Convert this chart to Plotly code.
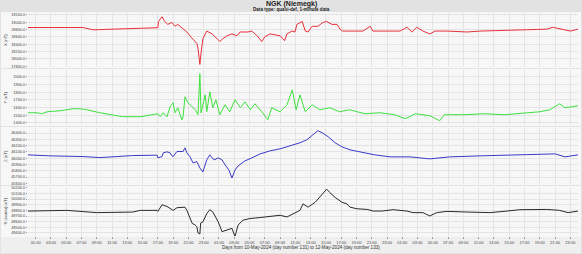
import numpy as np
import pandas as pd
import plotly.graph_objects as go
from plotly.subplots import make_subplots

# ---- data (hours since 2024-05-10 00:00 UT, values in nT) ----
x_hours = [0, 3.0, 7.2, 8.5, 10.7, 13.7, 16.9, 17.0, 17.08, 17.3, 17.55, 17.9, 18.3, 18.85, 19.25, 19.6, 19.9,
           20.3, 20.8, 21.2, 21.9, 22.1, 22.25, 22.4, 22.5, 22.65, 22.9, 23.4, 24.1, 24.75, 25.1, 25.5, 26.05,
           26.7, 27.35, 27.75, 28.8, 29.3, 30.0, 30.6, 31.0, 31.7, 32.3, 33.0, 33.6, 33.9, 34.55, 34.95, 35.2,
           35.6, 35.9, 36.3, 36.65, 37.2, 37.95, 38.6, 39.1, 39.8, 40.45, 40.85, 41.2, 42.15, 43.85, 44.8,
           45.15, 46.1, 47.8, 48.7, 49.6, 50.3, 50.9, 51.7, 52.6, 53.3, 54.85, 57.5, 59.2, 63.5, 67.9, 68.7,
           69.9, 71.0, 72.0]
x_vals = [18855, 18858, 18855, 18792, 18810, 18836, 18847, 18850, 19018, 19070, 19148, 19018, 18940, 18992,
          18888, 18940, 18888, 18810, 18733, 18629, 18473, 18421, 18291, 18083, 17850, 18161, 18551, 18758,
          18681, 18551, 18473, 18551, 18629, 18681, 18629, 18733, 18733, 18758, 18629, 18473, 18603, 18681,
          18655, 18629, 18499, 18681, 18758, 18733, 18940, 18992, 19018, 18758, 18733, 18888, 18888, 18992,
          19018, 18940, 18940, 18810, 18758, 18758, 18758, 18888, 18758, 18758, 18758, 18758, 18862, 18733,
          18862, 18758, 18681, 18758, 18758, 18733, 18758, 18784, 18810, 18862, 18810, 18758, 18810]

y_hours = [0, 1.2, 1.8, 2.5, 4.2, 5.9, 6.8, 7.7, 9.4, 11.1, 12.4, 14.7, 16.4, 17.0, 17.3, 17.7, 18.2, 18.6,
           19.0, 19.25, 19.6, 20.15, 20.3, 20.55, 20.95, 21.5, 21.9, 22.25, 22.5, 22.65, 23.2, 23.4, 23.8,
           24.2, 24.6, 25.1, 25.8, 26.4, 27.1, 27.8, 28.4, 29.1, 29.7, 30.6, 31.4, 31.9, 33.0, 33.9, 34.6,
           35.1, 35.6, 36.3, 37.2, 38.2, 39.5, 40.8, 42.1, 44.1, 46.1, 48.0, 49.4, 50.7, 52.6, 53.9, 54.5,
           57.1, 59.7, 62.4, 65.0, 67.0, 68.3, 69.6, 70.3, 72.0]
y_vals = [1532, 1532, 1519, 1545, 1558, 1584, 1584, 1571, 1532, 1506, 1480, 1480, 1506, 1519, 1480, 1532,
          1480, 1610, 1662, 1532, 1597, 1441, 1480, 1740, 1662, 1610, 1571, 1506, 2040, 1532, 1766, 1545,
          1805, 1597, 1701, 1506, 1636, 1545, 1701, 1597, 1675, 1571, 1649, 1545, 1441, 1597, 1545, 1636,
          1831, 1571, 1766, 1545, 1636, 1571, 1597, 1545, 1571, 1519, 1532, 1506, 1454, 1519, 1493, 1428,
          1506, 1506, 1519, 1506, 1532, 1545, 1571, 1649, 1597, 1623]

z_hours = [0, 2.9, 7.2, 9.4, 11.65, 13.7, 16.9, 17.0, 17.55, 17.7, 18.2, 18.6, 18.85, 19.0, 19.5, 19.9, 20.3,
           20.55, 20.8, 21.2, 21.6, 22.1, 22.5, 22.9, 23.4, 23.8, 24.35, 24.9, 25.4, 25.9, 26.3, 26.7, 27.1,
           27.5, 28.4, 29.3, 30.4, 31.7, 33.0, 34.3, 35.6, 36.5, 37.3, 37.95, 38.5, 39.3, 40.2, 41.1, 42.15,
           43.5, 45.4, 47.4, 50.0, 52.6, 55.2, 59.2, 63.1, 67.0, 69.0, 70.3, 72.0]
z_vals = [46053, 46037, 46026, 46010, 46026, 46042, 46048, 46005, 46026, 46085, 46101, 46085, 46037, 46026,
          46106, 46101, 46106, 46165, 46085, 46026, 45925, 45946, 45845, 45781, 45973, 46053, 45973, 46005,
          45973, 45877, 45813, 45685, 45813, 45877, 45957, 46005, 46069, 46117, 46149, 46197, 46245, 46293,
          46373, 46437, 46405, 46341, 46245, 46181, 46133, 46101, 46053, 46021, 46021, 45989, 46021, 46037,
          46053, 46069, 46069, 46021, 46053]

f_hours = [0, 5.1, 9.0, 13.7, 14.7, 16.9, 17.0, 17.55, 18.2, 19.0, 19.5, 20.15, 20.55, 20.8, 21.2, 21.5, 21.9,
           22.1, 22.25, 22.5, 22.6, 22.9, 23.4, 23.8, 24.2, 24.9, 25.4, 26.05, 26.7, 27.1, 27.5, 28.15, 29.05,
           30.4, 31.7, 33.0, 33.9, 34.7, 35.6, 36.0, 36.65, 37.6, 38.5, 39.1, 39.5, 40.2, 41.1, 41.75, 42.15,
           43.05, 44.4, 45.2, 46.3, 47.4, 47.8, 49.6, 50.4, 51.7, 52.6, 53.5, 54.85, 57.5, 60.5, 62.7, 64.4,
           67.9, 69.6, 70.7, 72.0]
f_vals = [49788, 49800, 49760, 49770, 49800, 49800, 49782, 49899, 49869, 49800, 49847, 49847, 49857, 49800,
          49655, 49568, 49539, 49509, 49400, 49382, 49574, 49596, 49742, 49812, 49770, 49596, 49422, 49452,
          49481, 49335, 49539, 49626, 49655, 49673, 49695, 49713, 49683, 49742, 49800, 49916, 49857, 49944,
          50090, 50177, 50118, 50031, 49944, 49916, 49857, 49829, 49817, 49788, 49788, 49800, 49812, 49788,
          49760, 49760, 49701, 49760, 49782, 49770, 49760, 49788, 49812, 49817, 49800, 49760, 49788]

panel_titles = ["X (nT)", "Y (nT)", "Z (nT)", "S (scalar) (nT)"]
panel_colors = ["#e8303a", "#3ee03e", "#3a3ac8", "#2a2a2a"]
y_ticks = [list(range(17800, 19201, 200)), list(range(1400, 2001, 100)),
           list(range(45600, 46401, 100)), list(range(49400, 50201, 100))]
y_ranges = [[17780, 19250], [1372, 2090], [45590, 46480], [49345, 50215]]

start = pd.Timestamp("2024-05-10 00:00")
def to_time(h):
    return start + pd.to_timedelta(np.array(h, dtype=float), unit="h")

series = [(x_hours, x_vals), (y_hours, y_vals), (z_hours, z_vals), (f_hours, f_vals)]

W, H = 582, 254
L, R, T, B = 28, 4, 13, 18
pw, ph = W - L - R, H - T - B
panels_px = [(13, 67), (70, 125), (128, 184), (187, 236)]

def py2p(py):
    return (H - B - py) / ph

def px2p(px):
    return (px - L) / pw

fig = make_subplots(rows=4, cols=1, shared_xaxes=True)
font = "Liberation Sans"

for i, ((hh, vv), col) in enumerate(zip(series, panel_colors)):
    fig.add_trace(go.Scatter(x=to_time(hh), y=vv, mode="lines",
                             line=dict(color=col, width=1), showlegend=False, hoverinfo="skip"),
                  row=i + 1, col=1)

fig.update_layout(
    width=W, height=H, margin=dict(l=L, r=R, t=T, b=B),
    paper_bgcolor="#e2e2e2", plot_bgcolor="#ffffff", template="none",
    font=dict(family=font, size=5, color="#333333"),
)

for i in range(4):
    top, bot = panels_px[i]
    ax = "yaxis" if i == 0 else f"yaxis{i+1}"
    xa = "xaxis" if i == 0 else f"xaxis{i+1}"
    fig.layout[ax].update(domain=[py2p(bot), py2p(top)], range=y_ranges[i],
                          tickvals=y_ticks[i], tickformat=".1f", showgrid=True,
                          gridcolor="#e4e4e4", gridwidth=1, zeroline=False,
                          tickfont=dict(size=3.9, color="#444444", family=font),
                          ticks="outside", ticklen=1, tickcolor="#999999",
                          showline=False, automargin=False)
    fig.layout[xa].update(type="date", range=[start, start + pd.Timedelta(hours=72)],
                          tick0="2024-05-10 01:00", dtick=7200000, tickformat="%H:%M",
                          showgrid=True, gridcolor="#e4e4e4", gridwidth=1, zeroline=False,
                          showticklabels=(i == 3), ticks="outside" if i == 3 else "",
                          ticklen=2, tickcolor="#999999",
                          tickfont=dict(size=4.0, color="#444444", family=font),
                          showline=False, automargin=False)

shapes = []
for i, (top, bot) in enumerate(panels_px):
    shapes.append(dict(type="rect", xref="paper", yref="paper", layer="below",
                       x0=px2p(1), x1=px2p(W - 1), y0=py2p(bot + 1), y1=py2p(top - 1),
                       fillcolor="#f7f7f7", line=dict(width=0)))
shapes.append(dict(type="rect", xref="paper", yref="paper", layer="below",
                   x0=px2p(1), x1=px2p(W - 1), y0=py2p(H - 1), y1=py2p(237),
                   fillcolor="#efefef", line=dict(width=0)))
fig.update_layout(shapes=shapes)

ann = [
    dict(text="<b>NGK (Niemegk)</b>", x=px2p(291), y=py2p(4), xref="paper", yref="paper",
         showarrow=False, font=dict(size=7, color="#222222", family=font), xanchor="center", yanchor="middle"),
    dict(text="<b>Data type: quasi-def, 1-minute data</b>", x=px2p(291), y=py2p(10), xref="paper", yref="paper",
         showarrow=False, font=dict(size=4.6, color="#222222", family=font), xanchor="center", yanchor="middle"),
    dict(text="Days from 10-May-2024 (day number 131) to 12-May-2024 (day number 133)",
         x=px2p(301), y=py2p(248), xref="paper", yref="paper", showarrow=False,
         font=dict(size=4.6, color="#333333", family=font), xanchor="center", yanchor="middle"),
]
for i, (top, bot) in enumerate(panels_px):
    ann.append(dict(text=panel_titles[i], x=px2p(5), y=py2p((top + bot) / 2), xref="paper", yref="paper",
                    showarrow=False, textangle=-90, font=dict(size=4.2, color="#333333", family=font),
                    xanchor="center", yanchor="middle"))
fig.update_layout(annotations=ann)

fig.write_html("out.html")
